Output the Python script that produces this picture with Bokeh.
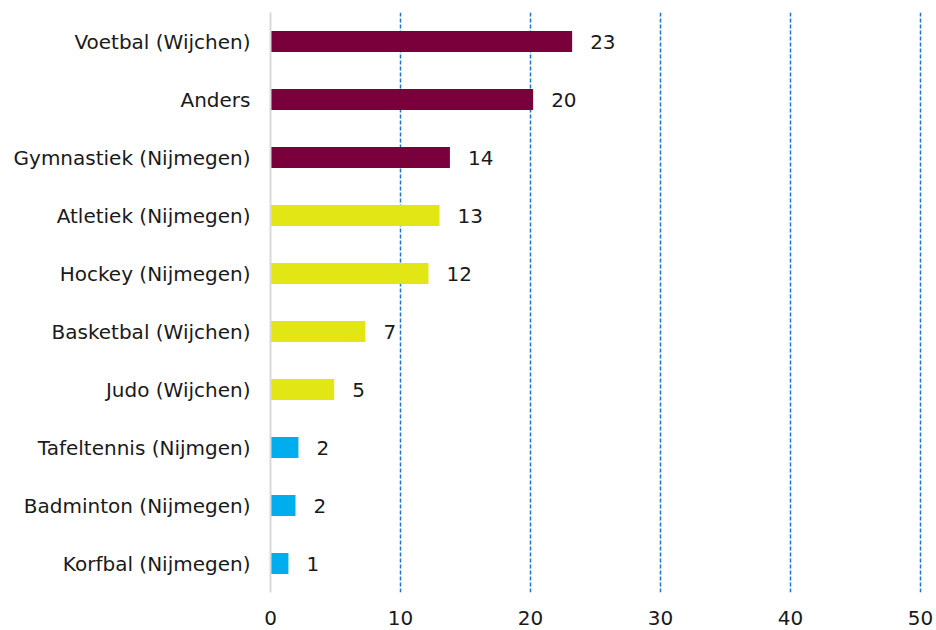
from bokeh.plotting import figure
from bokeh.models import ColumnDataSource, FixedTicker
from bokeh.core.properties import value
from bokeh.embed import file_html
from bokeh.resources import INLINE

categories = ["Voetbal (Wijchen)", "Anders", "Gymnastiek (Nijmegen)", "Atletiek (Nijmegen)",
              "Hockey (Nijmegen)", "Basketbal (Wijchen)", "Judo (Wijchen)",
              "Tafeltennis (Nijmgen)", "Badminton (Nijmegen)", "Korfbal (Nijmegen)"]
values = [23.2, 20.2, 13.8, 13.0, 12.15, 7.3, 4.9, 2.15, 1.92, 1.38]
labels = ["23", "20", "14", "13", "12", "7", "5", "2", "2", "1"]
colors = ["#7a003c"] * 3 + ["#e1e614"] * 4 + ["#00aeef"] * 3
x_ticks = [0, 10, 20, 30, 40, 50]

src = ColumnDataSource(dict(cat=categories, val=values, lab=labels, col=colors))

FONT = "DejaVu Sans"
FS = "20px"
p = figure(width=936, height=630, y_range=list(reversed(categories)), x_range=(0, 50.3),
           output_backend="svg", toolbar_location=None,
           min_border_left=270, min_border_top=12, min_border_bottom=38, min_border_right=12)
p.outline_line_color = None
p.hbar(y="cat", right="val", left=0, height=0.36, color="col", source=src, line_color=None)
p.text(x="val", y="cat", text="lab", source=src, x_offset=18, text_align="left",
       text_baseline="middle", text_font=value(FONT), text_font_size=FS, text_color="#1a1a1a")

p.ygrid.grid_line_color = None
p.xgrid.ticker = FixedTicker(ticks=[10, 20, 30, 40, 50])
p.xgrid.grid_line_color = "#1b75c9"
p.xgrid.grid_line_dash = "4 2"
p.xgrid.grid_line_width = 1.5

p.xaxis.ticker = FixedTicker(ticks=x_ticks)
p.xaxis.axis_line_color = None
p.xaxis.major_tick_line_color = None
p.xaxis.minor_tick_line_color = None
p.xaxis.major_label_text_font = FONT
p.xaxis.major_label_text_font_size = FS
p.xaxis.major_label_text_color = "#1a1a1a"
p.xaxis.major_label_standoff = 12

p.yaxis.axis_line_color = "#d9d9d9"
p.yaxis.axis_line_width = 2
p.yaxis.major_tick_line_color = None
p.yaxis.minor_tick_line_color = None
p.yaxis.major_label_text_font = FONT
p.yaxis.major_label_text_font_size = FS
p.yaxis.major_label_text_color = "#1a1a1a"
p.yaxis.major_label_standoff = 14

open("out.html", "w").write(file_html(p, INLINE))
